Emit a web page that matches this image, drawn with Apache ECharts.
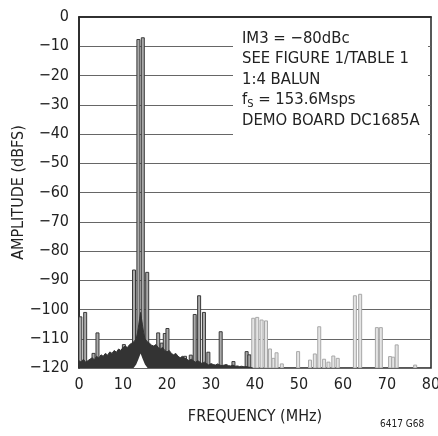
<!DOCTYPE html>
<html>
<head>
<meta charset="utf-8">
<script src="https://cdn.jsdelivr.net/npm/echarts@6/dist/echarts.min.js"></script>
<style>html,body{margin:0;padding:0;background:#fff;}#c{width:438px;height:436px;}</style>
</head>
<body>
<div id="c"></div>
<script>
// Noise floor upper edge (MHz, dBFS)
const noiseFreq = [0,0.5,1,1.5,2,2.5,3,3.5,4,4.5,5,5.5,6,6.5,7,7.5,8,8.5,9,9.5,10,10.5,11,11.5,12,12.5,13,13.3,13.6,13.8,14,14.2,14.4,14.7,15,15.5,16,16.5,17,17.5,18,18.5,19,19.5,20,20.5,21,21.5,22,22.5,23,23.5,24,24.5,25,25.5,26,26.5,27,27.5,28,28.5,29,29.5,30,30.5,31,31.5,32,32.5,33,33.5,34,34.5,35,35.5,36,36.5,37,37.5,38,38.5,39,39.5];
const noiseTop = [-117.5,-118,-117,-118,-117.5,-117,-116.5,-117.2,-116,-116.6,-115.5,-116,-115,-115.6,-114.5,-115,-114,-114.6,-113.5,-114,-113,-112.5,-113,-112,-111.5,-111,-110,-108,-105,-103,-101,-103,-105,-108,-110,-111,-111.5,-112.2,-112.5,-112,-113,-113.5,-113,-114,-114.5,-114,-115,-115.5,-115,-116,-116.5,-116,-116.6,-117,-117.5,-117,-117.5,-118,-117.5,-118,-118.5,-118,-118.5,-119,-118.5,-118.8,-119,-118.6,-119,-119.2,-119,-118.8,-119.2,-119.3,-119,-119.4,-119.3,-119.5,-119.4,-119.6,-119.5,-119.7,-119.8,-120];
// White gap under the carriers (lower edge of noise)
const notchFreq = [12.4,13,13.5,14,14.5,15,15.6];
const notchLevel = [-120,-118.8,-117,-115,-117,-118.8,-120];
// Spurs below ~39 MHz (dark)
const darkSpikeFreq = [0.3,1.4,3.3,4.2,10.2,12.5,13.5,14.5,15.5,18.0,18.8,19.5,20.1,24.1,25.4,26.3,27.3,28.4,29.4,32.2,35.1,38.1,38.7];
const darkSpikeAmp  = [-102.5,-101,-115,-108,-112,-86.5,-7.7,-7.1,-87.3,-108,-111.5,-108.2,-106.5,-116,-115.6,-101.7,-95.3,-101,-114.6,-107.6,-117.8,-114.4,-115.5];
// Spurs above ~39 MHz (light)
const lightSpikeFreq = [39.6,40.5,41.5,42.5,43.4,44.2,44.9,46.1,49.8,52.5,53.6,54.6,55.7,56.7,57.8,58.8,62.7,63.9,67.7,68.6,70.7,71.4,72.2,76.4];
const lightSpikeAmp  = [-103,-102.7,-103.6,-103.9,-113.5,-116.7,-114.8,-118.6,-114.4,-117.3,-115.2,-105.9,-117,-118,-115.9,-116.7,-95.3,-94.8,-106.2,-106.2,-116.1,-116.3,-112.1,-119];
const noteLines = ['IM3 = \u221280dBc','SEE FIGURE 1/TABLE 1','1:4 BALUN','f{s|S} = 153.6Msps','DEMO BOARD DC1685A'];

const FONT = '"Liberation Sans Narrow", "DejaVu Sans Condensed", "Liberation Sans", sans-serif';
const pairs = (xs, ys) => xs.map((x, i) => [x, ys[i]]);

function spike(fill, stroke) {
  return function (params, api) {
    const top = api.coord([api.value(0), api.value(1)]);
    const base = api.coord([api.value(0), -120]);
    return {
      type: 'rect',
      shape: { x: top[0] - 1.5, y: top[1], width: 3, height: base[1] - top[1] },
      style: { fill: fill, stroke: stroke, lineWidth: 1 }
    };
  };
}

const chart = echarts.init(document.getElementById('c'), null, { renderer: 'canvas' });
chart.setOption({
  animation: false,
  backgroundColor: '#fff',
  textStyle: { fontFamily: FONT },
  grid: { left: 79, right: 7, top: 17, bottom: 68, show: true, borderColor: '#222', borderWidth: 1.5,
          containLabel: false, outerBoundsMode: 'none' },
  xAxis: {
    type: 'value', min: 0, max: 80, interval: 10,
    name: 'FREQUENCY (MHz)', nameLocation: 'middle', nameGap: 41, nameMoveOverlap: false,
    nameTextStyle: { fontFamily: FONT, fontSize: 16, color: '#222' },
    axisLine: { show: true, lineStyle: { color: '#222', width: 1.5 } },
    axisTick: { show: false },
    splitLine: { show: false },
    axisLabel: { fontFamily: FONT, fontSize: 16, color: '#222', margin: 9 }
  },
  yAxis: {
    type: 'value', min: -120, max: 0, interval: 10,
    name: 'AMPLITUDE (dBFS)', nameLocation: 'middle', nameGap: 52, nameRotate: 90, nameMoveOverlap: false,
    nameTextStyle: { fontFamily: FONT, fontSize: 16, color: '#222' },
    axisLine: { show: true, lineStyle: { color: '#222', width: 1.5 } },
    axisTick: { show: false },
    splitLine: { show: true, lineStyle: { color: '#666', width: 1 } },
    axisLabel: { fontFamily: FONT, fontSize: 16, color: '#222', margin: 10,
      formatter: v => v < 0 ? '\u2212' + (-v) : String(v) }
  },
  series: [
    {
      type: 'custom', z: 2, renderItem: spike('#aaa', '#3a3a3a'),
      data: pairs(darkSpikeFreq, darkSpikeAmp), clip: true
    },
    {
      type: 'custom', z: 2, renderItem: spike('#e4e4e4', '#a8a8a8'),
      data: pairs(lightSpikeFreq, lightSpikeAmp), clip: true
    },
    {
      type: 'line', z: 3, data: pairs(noiseFreq, noiseTop), showSymbol: false,
      lineStyle: { color: '#333', width: 1 },
      areaStyle: { color: '#333', opacity: 1, origin: 'start' }
    },
    {
      type: 'line', z: 4, data: pairs(notchFreq, notchLevel), showSymbol: false,
      lineStyle: { width: 0 },
      areaStyle: { color: '#fff', opacity: 1, origin: 'start' }
    }
  ],
  graphic: [
    { type: 'rect', shape: { x: 233, y: 26, width: 195, height: 116 }, style: { fill: '#fff' }, z: 10 },
    {
      type: 'text', x: 242, y: 28, z: 11,
      style: {
        text: noteLines.join('\n'),
        fontFamily: FONT, fontSize: 16.5, lineHeight: 20.5, fill: '#222',
        rich: { s: { fontFamily: FONT, fontSize: 11, verticalAlign: 'bottom', padding: [8, 0, 0, 0], fill: '#222' } }
      }
    },
    { type: 'text', x: 380, y: 419, z: 11, style: { text: '6417 G68', fontFamily: FONT, fontSize: 10, fill: '#222' } }
  ]
});
</script>
</body>
</html>
